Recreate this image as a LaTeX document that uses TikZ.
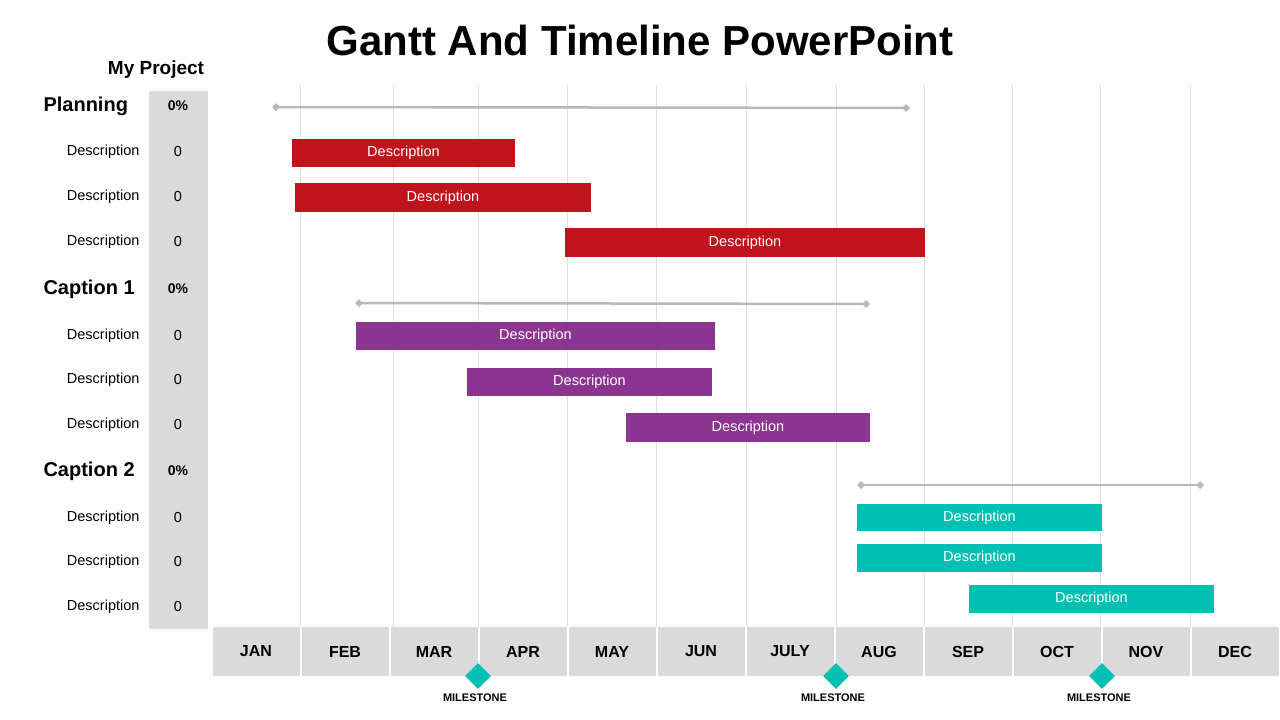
\documentclass[tikz,border=0pt]{standalone}
\usepackage{fontspec}
\setmainfont{Liberation Sans}
\usepackage{tikz}
\usetikzlibrary{shapes.geometric, arrows.meta}
\definecolor{barred}{HTML}{C0141C}
\definecolor{barpurple}{HTML}{8B3590}
\definecolor{barteal}{HTML}{00BFB3}
\definecolor{panelgray}{HTML}{DADADA}
\tikzset{
  bartext/.style={text=white, font=\fontsize{14.5}{17}\selectfont},
  desc/.style={anchor=east, font=\fontsize{14.5}{17}\selectfont},
  head/.style={anchor=west, font=\bfseries\fontsize{20}{24}\selectfont},
  pct/.style={font=\bfseries\fontsize{14}{17}\selectfont},
  month/.style={fill=panelgray, minimum width=87pt, minimum height=49pt, inner sep=0pt, font=\bfseries\fontsize{16}{19}\selectfont},
  span/.style={draw=gray!55, line width=2.5pt, {Diamond[length=8pt,width=8pt]}-{Diamond[length=8pt,width=8pt]}},
  milestone/.style={diamond, fill=barteal, minimum width=26pt, minimum height=26pt, inner sep=0pt},
}
\newcommand{\ganttbar}[6]{%
  \node[fill=#5, minimum width=#2pt-#1pt, minimum height=#4pt-#3pt, inner sep=0pt, bartext]
    (#6) at ({(#1+#2)/2}, {(#3+#4)/2}) {Description};}
\begin{document}
\begin{tikzpicture}[x=1pt, y=-1pt]
        \useasboundingbox (0, 0) rectangle (1280, 720);
        \node (title) at (640, 40) {\bfseries\fontsize{42}{50}\selectfont Gantt And Timeline PowerPoint};
        \node (proj) at (156, 70) {\bfseries\fontsize{19}{23}\selectfont My Project};
        \fill [panelgray] (149, 91) rectangle (208, 629);
        % grid lines
        \foreach \x in {300, 393, 478, 567, 656, 746, 836, 924, 1012, 1100, 1190}
            \draw [gray!25, line width=1pt] (\x, 85) -- (\x, 627);
        % months
        \foreach \m [count=\i from 0] in {JAN, FEB, MAR, APR, MAY, JUN, JULY, AUG, SEP, OCT, NOV, DEC}
            \node [month] (m\i) at (256 + 89*\i, 651.5) {\m};
        % groups
        \node [head] (g1) at (40, 106) {Planning};
        \node [head] (g2) at (40, 289) {Caption 1};
        \node [head] (g3) at (40, 471) {Caption 2};
        \foreach \y [count=\i] in {106, 289, 471}
            \node [pct] (p\i) at (178, \y) {0\%};
        \foreach \y [count=\i] in {152, 197, 242, 336, 380, 425, 518, 562, 607} {
            \node [desc] (d\i) at (143, \y) {Description};
            \node [font=\fontsize{14.5}{17}\selectfont] (v\i) at (178, \y) {0};
        }
        % spans
        \coordinate (s1a) at (272, 107); \coordinate (s1b) at (910, 108);
        \coordinate (s2a) at (355, 303); \coordinate (s2b) at (870, 304);
        \coordinate (s3a) at (857, 485); \coordinate (s3b) at (1204, 485);
        \draw [span] (s1a) -- (s1b);
        \draw [span] (s2a) -- (s2b);
        \draw [span] (s3a) -- (s3b);
        % bars
        \ganttbar{292}{515}{139}{167}{barred}{b1}
        \ganttbar{295}{591}{183}{212}{barred}{b2}
        \ganttbar{565}{925}{228}{257}{barred}{b3}
        \ganttbar{356}{715}{322}{350}{barpurple}{b4}
        \ganttbar{467}{712}{368}{396}{barpurple}{b5}
        \ganttbar{626}{870}{413}{442}{barpurple}{b6}
        \ganttbar{857}{1102}{504}{531}{barteal}{b7}
        \ganttbar{857}{1102}{544}{572}{barteal}{b8}
        \ganttbar{969}{1214}{585}{613}{barteal}{b9}
        % milestones
        \foreach \x [count=\i] in {478, 836, 1102} {
            \node [milestone] (ms\i) at (\x, 676) {};
            \node [font=\bfseries\fontsize{11}{13}\selectfont] (ml\i) at (\x - 3, 698) {MILESTONE};
        }
    \end{tikzpicture}
\end{document}
